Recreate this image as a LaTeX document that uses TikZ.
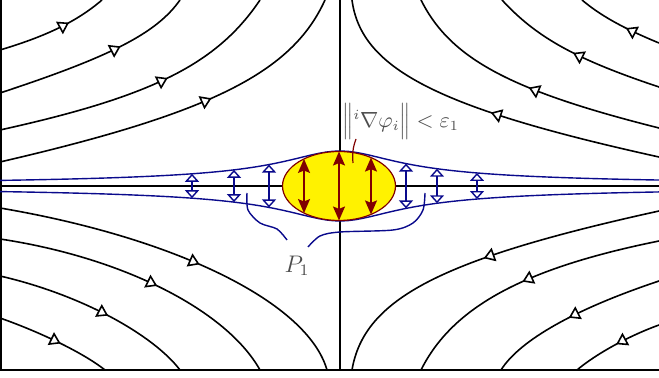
\documentclass[tikz,border=0pt]{standalone}
\usetikzlibrary{arrows.meta,decorations.markings}
\definecolor{darkred}{RGB}{128,0,0}
\definecolor{navyblue}{RGB}{10,10,140}
\tikzset{
  flow/.style={line width=0.8pt,postaction={decorate},
    decoration={markings,mark=at position #1 with {\arrow{Triangle[length=5.5pt,width=7pt,fill=white]}}}},
  tubeline/.style={navyblue,line width=0.7pt},
  bluedbl/.style={navyblue,line width=0.7pt,{Triangle[open,length=4pt,width=7pt]}-{Triangle[open,length=4pt,width=7pt]}},
  reddbl/.style={darkred,line width=0.8pt,{Stealth[length=7pt,width=6pt,inset=1.2pt]}-{Stealth[length=7pt,width=6pt,inset=1.2pt]}},
}
\begin{document}
\begin{tikzpicture}[x=0.5pt,y=-0.5pt,
  declare function={tube(\u)=35/sqrt(1+(\u/55)^2);}]
  \useasboundingbox (0,0) rectangle (659,378);
  % frame and axes
  \draw[line width=0.7pt] (1,0) -- (1,370) -- (659,370);
  \draw[line width=0.6pt] (0,186) -- (659,186);
  \draw[line width=0.6pt] (340,0) -- (340,370);
  % streamlines, upper left
  \draw[flow=0.65] (0,50) .. controls (47,36) and (77.5,21) .. (102,0);
  \draw[flow=0.63] (0,93) .. controls (111.75,56.25) and (156.75,33) .. (180,0);
  \draw[flow=0.59] (0,130) .. controls (152,96.5) and (217,64) .. (260,0);
  \draw[flow=0.59] (0,162) .. controls (210.75,113.25) and (292,72.75) .. (325,0);
  % upper right
  \draw[flow=0.41] (659,43) .. controls (623.3,28.3) and (600.2,15.4) .. (582,0);
  \draw[flow=0.51] (659,87) .. controls (575.75,59.25) and (536.5,37.5) .. (502,0);
  \draw[flow=0.49] (659,128) .. controls (509.75,90.5) and (450.25,58.5) .. (421,0);
  \draw[flow=0.48] (659,157) .. controls (438,108.25) and (361,69) .. (352,0);
  % lower left
  \draw[flow=0.55] (0,208) .. controls (177,238) and (307.8,302.8) .. (327,370);
  \draw[flow=0.55] (0,239) .. controls (122.4,257.4) and (226.4,310) .. (260,370);
  \draw[flow=0.56] (0,276) .. controls (81,294.6) and (153,334.6) .. (180,370);
  \draw[flow=0.56] (0,318) .. controls (42.6,333) and (84.6,353.8) .. (105,370);
  % lower right
  \draw[flow=0.50] (659,211) .. controls (440.75,259) and (364,298.75) .. (352,370);
  \draw[flow=0.51] (659,241) .. controls (523.9,268.3) and (452.5,307) .. (421,370);
  \draw[flow=0.53] (659,281) .. controls (575.15,309) and (519.85,340.1) .. (501,370);
  \draw[flow=0.5] (659,325) .. controls (629,335.8) and (596.2,353.8) .. (577,370);
  % tube around the axis
  \draw[tubeline] plot[domain=-340:319,samples=90] ({340+\x},{186-tube(\x)});
  \draw[tubeline] plot[domain=-340:319,samples=90] ({340+\x},{186+tube(\x)});
  \foreach \u in {-148,-106,-71,66,97,137}
    \draw[bluedbl] ({340+\u},{186-tube(\u)}) -- ({340+\u},{186+tube(\u)});
  % region P_1
  \fill[yellow] (339,186) ellipse [x radius=56.5,y radius=34.5];
  \draw[darkred,line width=0.6pt] (339,186) ellipse [x radius=56.5,y radius=34.5];
  \foreach \u in {-35,0,32}
    \draw[reddbl] ({339+\u},{186-34.5*sqrt(1-(\u/56.5)^2)}) -- ({339+\u},{186+34.5*sqrt(1-(\u/56.5)^2)});
  % labels
  \node[anchor=west,text=black!70,font=\fontsize{10.5}{12}\selectfont,inner sep=0pt] (grad) at (342,122)
    {$\Big\|{}^{i}\nabla\varphi_i\Big\| < \varepsilon_1$};
  \draw[darkred,line width=0.6pt] (356,139) to[out=-110,in=95] (353,163);
  \node[text=black!70,font=\large] (pone) at (297,266) {$P_1$};
  \draw[tubeline] plot[smooth] coordinates {(247,193) (248,210) (260,223) (277,229) (287,240)};
  \draw[tubeline] plot[smooth] coordinates {(308,247) (320,236) (340,232) (393,230) (413,223) (423,210) (425,193)};
\end{tikzpicture}
\end{document}
